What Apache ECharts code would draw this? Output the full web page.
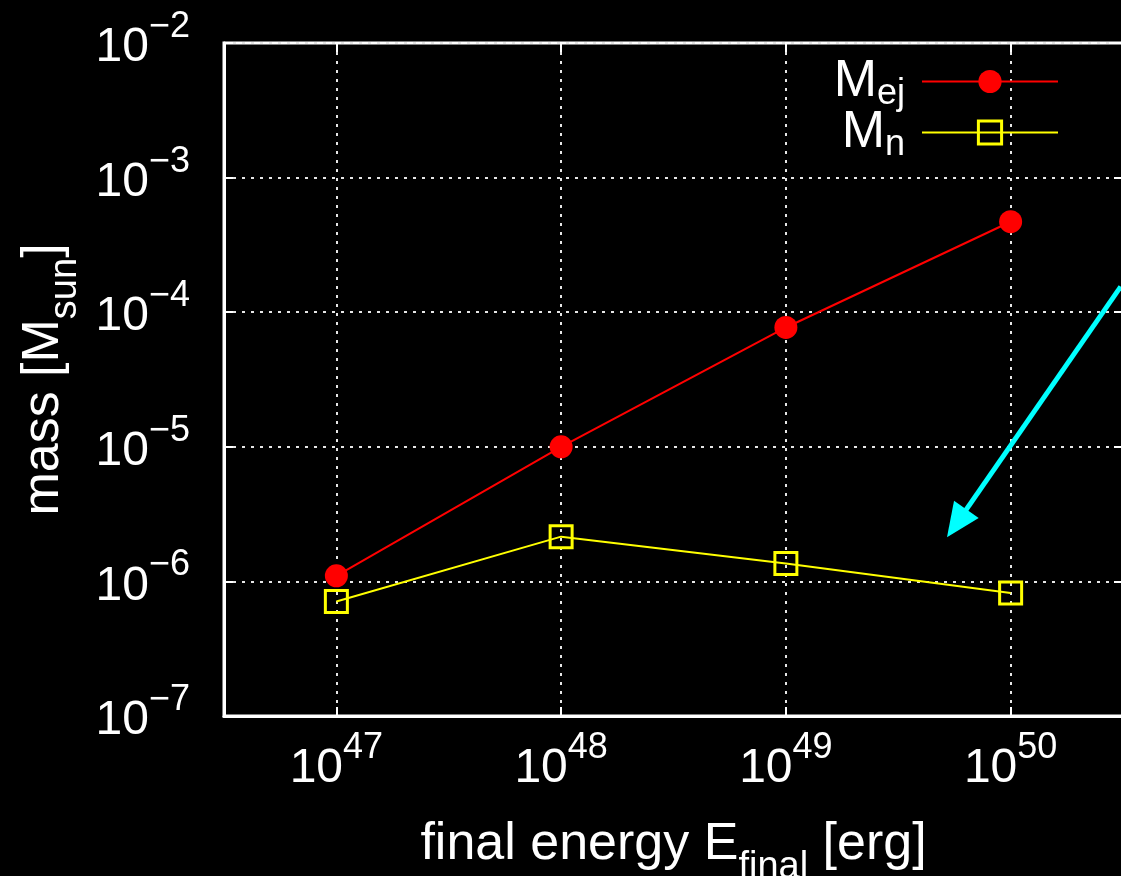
<!DOCTYPE html>
<html>
<head>
<meta charset="utf-8">
<script src="https://cdn.jsdelivr.net/npm/echarts@6/dist/echarts.min.js"></script>
<style>
html,body{margin:0;padding:0;background:#000;}
#c{width:1121px;height:876px;}
</style>
</head>
<body>
<div id="c"></div>
<script>
// ---- data ----
const energies = [1e47, 1e48, 1e49, 1e50];           // final energy [erg]
const massEj   = [1.1e-6, 1.0e-5, 7.7e-5, 4.7e-4];   // M_ej [Msun]
const massN    = [7.1e-7, 2.15e-6, 1.36e-6, 8.2e-7]; // M_n [Msun]
const arrowFrom = [Math.pow(10, 50.49), 1.55e-4];
const arrowTo   = [Math.pow(10, 49.76), 2.7e-6];
const xRange = [Math.pow(10, 46.5), Math.pow(10, 50.5)];
const yRange = [1e-7, 1e-2];

const FONT = '"Liberation Sans", Arial, Helvetica, sans-serif';

function powLabel(v) {
  const e = Math.log10(v);
  const r = Math.round(e);
  if (Math.abs(e - r) > 1e-6) return '';
  const s = r < 0 ? '\u2212' + (-r) : String(r);
  return '{b|10}{s|' + s + '}';
}
const powRich = {
  b: {fontSize: 48, fontFamily: FONT, color: '#fff', lineHeight: 48, padding: [10, 0, 0, 0]},
  s: {fontSize: 36, fontFamily: FONT, color: '#fff', lineHeight: 36, padding: [0, 0, 32, 0]}
};
const titleRich = {
  a: {fontSize: 52, fontFamily: FONT, color: '#fff', lineHeight: 52},
  s: {fontSize: 38, fontFamily: FONT, color: '#fff', lineHeight: 38, padding: [46, 0, 0, 0]}
};

const chart = echarts.init(document.getElementById('c'));
const gridLine = {show: true, lineStyle: {color: '#e6e6e6', width: 2, type: [3, 6]}};
const tick = {show: true, inside: true, length: 9, lineStyle: {color: '#fff', width: 2}};

chart.setOption({
  backgroundColor: '#000',
  animation: false,
  grid: {left: 224, top: 43, width: 899, height: 673, outerBoundsMode: 'none', containLabel: false,
         show: true, borderColor: '#fff', borderWidth: 3, backgroundColor: 'transparent'},
  legend: {
    right: 62, top: 51, padding: 0, orient: 'vertical', align: 'right',
    itemWidth: 136, itemHeight: 29, itemGap: -10,
    textStyle: {color: '#fff', fontFamily: FONT,
      rich: {
        m: {fontSize: 52, fontFamily: FONT, color: '#fff', lineHeight: 50},
        sub: {fontSize: 36, fontFamily: FONT, color: '#fff', lineHeight: 24, padding: [25, 0, 0, 0]},
        g: {width: 12}
      }},
    formatter: function (n) { return n === 'Mej' ? '{m|M}{sub|ej}{g|}' : '{m|M}{sub|n}{g|}'; },
    data: [{name: 'Mej'}, {name: 'Mn', itemStyle: {borderWidth: 3, borderColor: '#ffff00', color: 'transparent'}}]
  },
  xAxis: [{
    type: 'log', logBase: 10, min: xRange[0], max: xRange[1],
    axisLine: {show: true, lineStyle: {color: '#fff', width: 3}},
    axisTick: tick, splitLine: gridLine, minorTick: {show: false},
    axisLabel: {formatter: powLabel, rich: powRich, margin: 24, showMinLabel: false, showMaxLabel: false},
    name: '{a|final energy E}{s|final}{a| [erg]}', nameLocation: 'middle', nameGap: 86,
    nameTextStyle: {rich: titleRich}
  }, {
    type: 'log', logBase: 10, min: xRange[0], max: xRange[1], position: 'top',
    axisLine: {show: false}, axisTick: tick, splitLine: {show: false}, axisLabel: {show: false}
  }],
  yAxis: [{
    type: 'log', logBase: 10, min: yRange[0], max: yRange[1],
    axisLine: {show: true, lineStyle: {color: '#fff', width: 3}},
    axisTick: tick, splitLine: gridLine, minorTick: {show: false},
    axisLabel: {formatter: powLabel, rich: powRich, margin: 34},
    name: '{a|mass [M}{s|sun}{a|]}', nameLocation: 'middle', nameGap: 145, nameRotate: 90,
    nameTextStyle: {rich: {
      a: {fontSize: 52, fontFamily: FONT, color: '#fff', lineHeight: 52},
      s: {fontSize: 38, fontFamily: FONT, color: '#fff', lineHeight: 38, padding: [44, 0, 0, 0]}
    }}
  }, {
    type: 'log', logBase: 10, min: yRange[0], max: yRange[1], position: 'right',
    axisLine: {show: false}, axisTick: tick, splitLine: {show: false}, axisLabel: {show: false}
  }],
  series: [{
    name: 'Mej', type: 'line',
    data: energies.map((e, i) => [e, massEj[i]]),
    symbol: 'circle', symbolSize: 23,
    lineStyle: {color: '#ff0000', width: 2},
    itemStyle: {color: '#ff0000'},
    z: 3
  }, {
    name: 'Mn', type: 'line',
    data: energies.map((e, i) => [e, massN[i]]),
    symbol: 'rect', symbolSize: 22,
    lineStyle: {color: '#ffff00', width: 2},
    itemStyle: {color: 'transparent', borderColor: '#ffff00', borderWidth: 3},
    z: 4,
    markLine: {
      silent: true, symbol: ['none', 'triangle'], symbolSize: [30, 34],
      label: {show: false},
      lineStyle: {color: '#00ffff', width: 5, type: 'solid'},
      data: [[{coord: arrowFrom}, {coord: arrowTo}]]
    }
  }]
});
</script>
</body>
</html>
